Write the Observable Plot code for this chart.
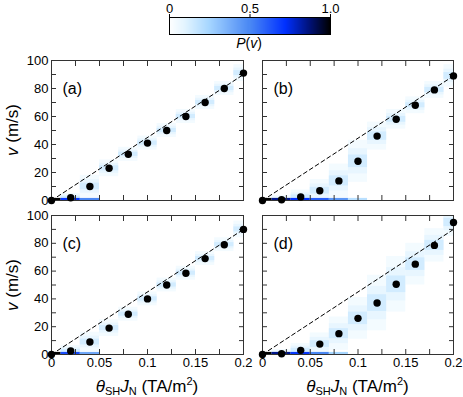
<!DOCTYPE html>
<html><head><meta charset="utf-8">
<script src="https://cdn.jsdelivr.net/npm/d3@7"></script>
<script src="https://cdn.jsdelivr.net/npm/@observablehq/plot@0.6"></script>
<style>
body{margin:0;background:#fff;font-family:"Liberation Sans",Arial,sans-serif;}
#fig{position:relative;width:463px;height:397px;overflow:hidden;background:#fff}
#fig svg{position:absolute;left:0;top:0}
.lab{position:absolute;white-space:nowrap;color:#000;transform:translate(-50%,-50%);line-height:1}
.lab sub{font-size:11px;vertical-align:-3px;font-style:normal}
.lab sup{font-size:11px;vertical-align:7px}
</style></head><body><div id="fig"></div>
<script>
// ---- data ----
const currents = [0, 0.02, 0.04, 0.06, 0.08, 0.10, 0.12, 0.14, 0.16, 0.18, 0.20];
const velA = [0, 2, 10, 23, 33, 41, 50, 60, 70, 80, 91];
const velB = [0, 0.5, 2.5, 7, 14, 28, 46, 58, 68, 79, 89];
const velC = [0, 2.5, 9, 19, 29, 40, 50, 58.5, 69, 79, 90];
const velD = [0, 0.5, 3, 7.5, 15, 26, 37, 50.5, 65, 78.5, 95];
// spread of the velocity distribution P(v) around each point (m/s)
const spreadA = [0, 3, 8, 6, 5, 5, 5, 5, 5, 5, 6];
const spreadB = [0, 3, 5, 8, 12, 15, 10, 7, 6, 6, 8];
const spreadC = [0, 4, 7, 6, 5, 5, 5, 5, 5, 5, 6];
const spreadD = [0, 3, 5, 8, 12, 15, 20, 20, 15, 12, 10];
// probability of being pinned (v = 0)
const stuckA = [1, 0.7, 0.5, 0, 0, 0, 0, 0, 0, 0, 0];
const stuckB = [1, 0.85, 0.72, 0.6, 0.45, 0.2, 0, 0, 0, 0, 0];
const stuckC = [1, 0.65, 0.4, 0, 0, 0, 0, 0, 0, 0, 0];
const stuckD = [1, 0.85, 0.7, 0.5, 0.25, 0, 0, 0, 0, 0, 0];
// dashed reference line: v at the right end (0.2 TA/m^2)
const fitEnd = [90, 89, 90, 90];
const panelLabels = ["(a)", "(b)", "(c)", "(d)"];
const bandFrac = [1, 0.6, 0.3];
const bandP = [0.04, 0.08, 0.14];
const xTickLabels = [0, 0.05, 0.1, 0.15, 0.2];
const xMinorTicks = [0, 0.025, 0.05, 0.075, 0.1, 0.125, 0.15, 0.175, 0.2];
const yTickLabels = [0, 20, 40, 60, 80, 100];
const yMinorTicks = [0, 10, 20, 30, 40, 50, 60, 70, 80, 90, 100];
const cbTicks = [0, 0.5, 1];
const colorStops = [0, 0.1, 0.25, 0.5, 0.72, 0.88, 1];
const colorRange = ["#ffffff", "#e2f4ff", "#a6d6ff", "#4a88f4", "#0030ff", "#001070", "#000000"];

// ---- layout ----
const W = 463, H = 397;
const FONT = '"Liberation Sans", Arial, sans-serif';
const cols = [[51, 243], [262, 453]];
const rows = [[60, 200], [215, 354]];
const fig = document.getElementById("fig");
const ramp = d3.scaleLinear().domain(colorStops).range(colorRange).interpolate(d3.interpolateRgb).clamp(true);
const colorScale = {type: "linear", domain: [0, 1], interpolate: t => ramp(t)};

const vels = [velA, velB, velC, velD];
const spreads = [spreadA, spreadB, spreadC, spreadD];
const stucks = [stuckA, stuckB, stuckC, stuckD];

function heatCells(vel, spread) {
  const out = [];
  bandFrac.forEach((f, k) => currents.forEach((x, i) => {
    if (spread[i] > 0) out.push({x, lo: vel[i] - spread[i] * f, hi: vel[i] + spread[i] * f, p: bandP[k]});
  }));
  return out;
}
function stuckCells(stuck) {
  return currents.map((x, i) => ({x, lo: 0, hi: 1.5, p: stuck[i]})).filter(d => d.p > 0);
}

for (let k = 0; k < 4; k++) {
  const c = k % 2, r = Math.floor(k / 2);
  const [L, R] = cols[c], [T, B] = rows[r];
  const vel = vels[k];
  const pts = currents.map((x, i) => ({x, v: vel[i]}));
  const fit = [{x: currents[0], v: 0}, {x: currents[currents.length - 1], v: fitEnd[k]}];
  const marks = [
    Plot.rect(heatCells(vel, spreads[k]), {x1: d => d.x - 0.01, x2: d => d.x + 0.01, y1: "lo", y2: "hi", fill: "p", clip: true}),
    Plot.rect(stuckCells(stucks[k]), {x1: d => d.x - 0.01, x2: d => d.x + 0.01, y1: "lo", y2: "hi", fill: "p", clip: true}),
    Plot.line(fit, {x: "x", y: "v", stroke: "#000", strokeWidth: 1, strokeDasharray: "4,3"}),
    Plot.frame({stroke: "#333", strokeWidth: 1}),
    Plot.axisX({anchor: "bottom", ticks: xMinorTicks, tickSize: -5, tickFormat: () => "", label: null, stroke: "#333"}),
    Plot.axisX({anchor: "top", ticks: xMinorTicks, tickSize: -5, tickFormat: () => "", label: null, stroke: "#333"}),
    Plot.axisY({anchor: "left", ticks: yMinorTicks, tickSize: -5, tickFormat: () => "", label: null, stroke: "#333"}),
    Plot.axisY({anchor: "right", ticks: yMinorTicks, tickSize: -5, tickFormat: () => "", label: null, stroke: "#333"}),
    Plot.dot(pts, {x: "x", y: "v", r: 3.7, fill: "#000", stroke: "none"}),
    Plot.text([panelLabels[k]], {frameAnchor: "top-left", dx: 11, dy: 22, fontSize: 16, textAnchor: "start", fill: "#000"})
  ];
  if (r === 1) marks.push(Plot.axisX({anchor: "bottom", ticks: xTickLabels, tickSize: 0, tickPadding: 3, tickFormat: d => String(d), label: null, fill: "#000"}));
  if (c === 0) marks.push(Plot.axisY({anchor: "left", ticks: yTickLabels, tickSize: 0, tickPadding: 3, tickFormat: d => String(d), label: null, fill: "#000"}));
  const svg = Plot.plot({
    width: W, height: H,
    marginLeft: L, marginRight: W - R, marginTop: T, marginBottom: H - B,
    style: {background: "transparent", fontFamily: FONT, fontSize: "13px", color: "#000", overflow: "visible"},
    x: {domain: [0, 0.2]},
    y: {domain: [0, 100]},
    color: colorScale,
    marks
  });
  fig.appendChild(svg);
}

// ---- colour bar (overlapping slices to avoid antialiasing seams) ----
const cbCells = d3.range(0, 160).map(i => ({a: i / 160, b: (i + 1) / 160}));
const cb = Plot.plot({
  width: W, height: 50,
  marginLeft: 169, marginRight: W - 330, marginTop: 17, marginBottom: 16,
  style: {background: "transparent", fontFamily: FONT, fontSize: "13px", color: "#000", overflow: "visible"},
  x: {domain: [0, 1]},
  color: colorScale,
  marks: [
    Plot.barX(cbCells, {x1: "a", x2: d => Math.min(1, d.b + 0.012), fill: d => (d.a + d.b) / 2, insetLeft: 0, insetRight: 0, shapeRendering: "crispEdges"}),
    Plot.frame({stroke: "#000", strokeWidth: 1}),
    Plot.axisX({anchor: "top", ticks: cbTicks, tickSize: 4, tickPadding: 1, tickFormat: d => d === 1 ? "1.0" : String(d), label: null, stroke: "#000"})
  ]
});
fig.appendChild(cb);

// ---- titles (HTML text) ----
function addLabel(html, x, y, size, extra) {
  const d = document.createElement("div");
  d.className = "lab";
  d.style.left = x + "px";
  d.style.top = y + "px";
  d.style.fontSize = size + "px";
  if (extra) d.style.transform = "translate(-50%,-50%) " + extra;
  d.innerHTML = html;
  fig.appendChild(d);
}
addLabel("<i>P</i>(<i>v</i>)", 249, 43, 14);
rows.forEach(([T, B]) => addLabel("<i>v</i> (m/s)", 12, (T + B) / 2, 17, "rotate(-90deg)"));
cols.forEach(([L, R]) => addLabel("<i>θ</i><sub>SH</sub><i>J</i><sub>N</sub> (TA/m<sup>2</sup>)", (L + R) / 2, 386, 17));
</script>
</body></html>
